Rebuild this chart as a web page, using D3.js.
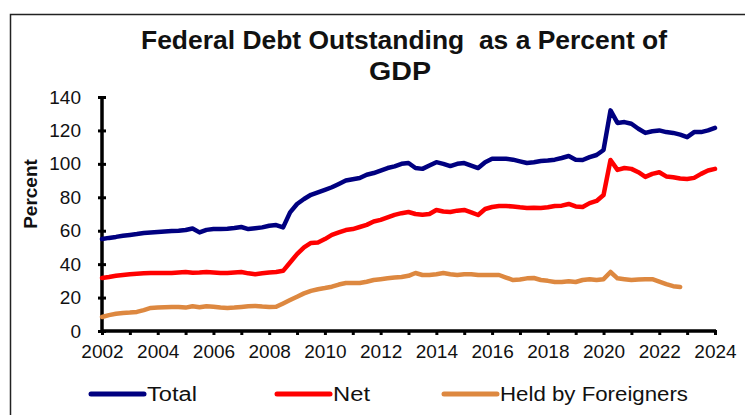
<!DOCTYPE html>
<html>
<head>
<meta charset="utf-8">
<script src="https://cdn.jsdelivr.net/npm/d3@7"></script>
<style>
  body { margin: 0; background: #fff; }
  svg { display: block; }
</style>
</head>
<body>
<div id="chart"></div>
<script>
// quarterly readings, 2002 Q1 .. 2024 Q1
var totalDebt = [
  55, 55.7, 56.3, 57,   57.5, 58, 58.6, 59,   59.3, 59.6, 59.8, 60,
  60.4, 61.3, 59, 60.5, 61, 61, 61.2, 61.6,   62.2, 61, 61.5, 62,
  63, 63.4, 62, 71,     76, 79, 81.5, 83,     84.5, 86, 88, 90,
  90.8, 91.5, 93.5, 94.5, 96, 97.5, 98.5, 100, 100.5, 97.5, 97, 99,
  101, 100, 98.7, 100,  100.5, 99, 97.5, 101, 103, 103, 103, 102.5,
  101.5, 100.5, 101, 101.7, 102, 102.5, 103.5, 104.7, 102.5, 102.3, 104, 105.3,
  108.3, 132, 124.5, 125, 124, 121, 118.5, 119.5, 120, 119, 118.5, 117.5,
  116, 119, 119, 120,   121.5
];
var netDebt = [
  31.7, 32.3, 33, 33.5, 34, 34.3, 34.5, 34.7, 34.7, 34.7, 34.7, 35,
  35.3, 34.8, 35, 35.3, 35, 34.7, 34.7, 35,   35.3, 34.5, 34, 34.5,
  35, 35.3, 36, 41,     46, 50, 52.7, 53,     55, 57.5, 59, 60.4,
  61, 62.2, 63.5, 65.5, 66.5, 68, 69.5, 70.5, 71.2, 70, 69.5, 70,
  72.4, 71.5, 71.2, 72, 72.4, 71, 69.4, 73,   74.2, 74.8, 74.8, 74.5,
  74, 73.6, 73.8, 73.6, 74, 74.8, 75, 76,     74.5, 74.2, 76.5, 77.8,
  81.4, 102.3, 96.4, 97.5, 97, 95, 92.2, 94,  95, 92.5, 92, 91.2,
  91, 91.6, 94, 96,     97
];
// 2002 Q1 .. 2022 Q4
var foreignHeld = [
  8.4, 9.5, 10.3, 10.8, 11, 11.4, 12.5, 13.8, 14, 14.2, 14.4, 14.4,
  14, 14.8, 14.2, 14.8, 14.5, 14, 13.8, 14,   14.4, 14.8, 15, 14.6,
  14.4, 14.5, 16.5, 18.5, 20.5, 22.5, 24, 25, 25.7, 26.5, 27.8, 28.7,
  28.7, 28.7, 29.5, 30.5, 31, 31.5, 32, 32.3, 33, 34.7, 33.5, 33.5,
  34, 34.7, 34, 33.5,   34, 34, 33.5, 33.5,   33.5, 33.5, 32, 30.5,
  30.8, 31.5, 31.7, 30.5, 30, 29.3, 29.3, 29.8, 29.3, 30.5, 31, 30.5,
  31, 35.3, 31.5, 31,   30.5, 30.8, 31, 31,   29.5, 28, 26.8, 26.3
];
var startYear = 2002;
var yearTicks = d3.range(2002, 2025);
var yearLabels = [2002, 2004, 2006, 2008, 2010, 2012, 2014, 2016, 2018, 2020, 2022, 2024];
var percentTicks = [0, 20, 40, 60, 80, 100, 120, 140];

var seriesNames = ["Total", "Net", "Held by Foreigners"];
var seriesColors = ["#000080", "#ff0000", "#dd8840"];

var svgWidth = 745;
var svgHeight = 415;

var svg = d3.select("#chart")
    .append("svg")
    .attr("width", svgWidth)
    .attr("height", svgHeight)
    .style("font-family", "'Liberation Sans', Arial, sans-serif");

// outer frame
svg.append("rect")
    .attr("x", 10.5)
    .attr("y", 14.5)
    .attr("width", 760)
    .attr("height", 420)
    .attr("fill", "none")
    .attr("stroke", "#222")
    .attr("stroke-width", 1.5);

// title (squeezed to mimic the narrow font)
var title = svg.append("text")
    .attr("text-anchor", "middle")
    .attr("font-family", "'Liberation Sans Narrow', 'Arial Narrow', 'Liberation Sans', sans-serif")
    .attr("font-weight", "bold")
    .attr("font-size", 26)
    .attr("fill", "#111")
    .style("white-space", "pre");
title.append("tspan")
    .attr("x", 404).attr("y", 49)
    .attr("textLength", 526)
    .attr("lengthAdjust", "spacingAndGlyphs")
    .text("Federal Debt Outstanding  as a Percent of");
title.append("tspan")
    .attr("x", 400).attr("y", 80)
    .attr("textLength", 62)
    .attr("lengthAdjust", "spacingAndGlyphs")
    .text("GDP");

var x = d3.scaleLinear().domain([2002, 2024]).range([102, 715]);
var y = d3.scaleLinear().domain([0, 140]).range([331, 97]);

// y axis
var leftAxis = d3.axisLeft(y)
    .tickValues(percentTicks)
    .tickSize(0)
    .tickPadding(21);
var gy = svg.append("g")
    .attr("transform", "translate(102,0)")
    .call(leftAxis);
gy.select(".domain").remove();
gy.selectAll("text")
    .attr("font-size", 19)
    .attr("font-family", "'Liberation Sans', Arial, sans-serif")
    .attr("fill", "#111");
gy.selectAll(".tick").append("line")
    .attr("x1", -4).attr("x2", 4)
    .attr("stroke", "#000").attr("stroke-width", 3);
svg.append("line")
    .attr("x1", 102).attr("x2", 102)
    .attr("y1", y(140) - 1).attr("y2", y(0) + 1.5)
    .attr("stroke", "#000").attr("stroke-width", 3.5);

// x axis
var bottomAxis = d3.axisBottom(x)
    .tickValues(yearTicks)
    .tickSize(0)
    .tickPadding(14)
    .tickFormat(function(d) { return yearLabels.indexOf(d) >= 0 ? d : ""; });
var gx = svg.append("g")
    .attr("transform", "translate(0," + y(0) + ")")
    .call(bottomAxis);
gx.select(".domain").remove();
gx.selectAll("text")
    .attr("font-size", 19)
    .attr("font-family", "'Liberation Sans', Arial, sans-serif")
    .attr("fill", "#111");
gx.selectAll(".tick").append("line")
    .attr("y1", -1).attr("y2", 4)
    .attr("stroke", "#000").attr("stroke-width", 3);
svg.append("line")
    .attr("x1", 101).attr("x2", 716)
    .attr("y1", y(0)).attr("y2", y(0))
    .attr("stroke", "#000").attr("stroke-width", 3.5);

// y axis label
svg.append("text")
    .attr("transform", "translate(37,194) rotate(-90)")
    .attr("text-anchor", "middle")
    .attr("font-size", 19)
    .attr("font-weight", "bold")
    .attr("fill", "#111")
    .text("Percent");

// lines
var line = d3.line()
    .x(function(d, i) { return x(startYear + i / 4); })
    .y(function(d) { return y(d); });

[totalDebt, netDebt, foreignHeld].forEach(function(values, k) {
  svg.append("path")
      .datum(values)
      .attr("d", line)
      .attr("fill", "none")
      .attr("stroke", seriesColors[k])
      .attr("stroke-width", 4.5)
      .attr("stroke-linejoin", "round")
      .attr("stroke-linecap", "round");
});

// legend
var legendX = [91, 277, 444];
var legendTextWidth = [50, 37, 188];
var legend = svg.selectAll(".legend")
    .data(seriesNames)
    .enter()
    .append("g")
    .attr("class", "legend")
    .attr("transform", function(d, i) { return "translate(" + legendX[i] + ",394)"; });
legend.append("line")
    .attr("x1", 0).attr("x2", 53)
    .attr("stroke", function(d, i) { return seriesColors[i]; })
    .attr("stroke-width", 5)
    .attr("stroke-linecap", "round");
legend.append("text")
    .attr("x", 56)
    .attr("dy", "0.35em")
    .attr("font-size", 20)
    .attr("font-family", "'Liberation Sans Narrow', 'Arial Narrow', 'Liberation Sans', sans-serif")
    .attr("textLength", function(d, i) { return legendTextWidth[i]; })
    .attr("lengthAdjust", "spacingAndGlyphs")
    .attr("fill", "#111")
    .text(function(d) { return d; });
</script>
</body>
</html>
